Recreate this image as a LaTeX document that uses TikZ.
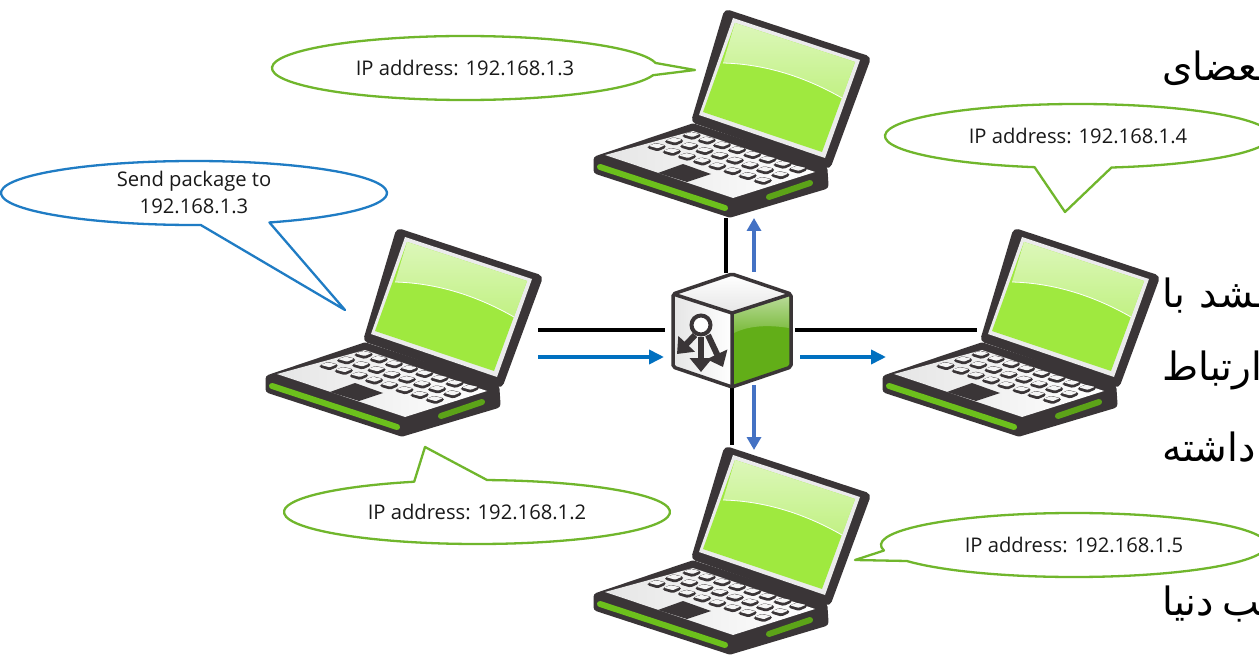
\documentclass[tikz,border=0pt]{standalone}
\usepackage{fontspec}
\setmainfont{Open Sans}
\newfontfamily\arabicfont[Script=Arabic]{DejaVu Sans}
\TeXXeTstate=1
\usetikzlibrary{arrows.meta,calc}
\definecolor{dk}{HTML}{3A3537}
\definecolor{grn}{HTML}{62AE18}
\definecolor{strip}{HTML}{6CC01C}
\definecolor{scr}{HTML}{9FE93F}
\definecolor{bluea}{HTML}{0070C0}
\definecolor{blueb}{HTML}{4472C4}
\definecolor{callg}{HTML}{70B62C}
\definecolor{callb}{HTML}{1F7CC4}
\tikzset{
  lab/.style={font=\fontsize{20.2}{27}\selectfont,align=center,text=black!90,inner sep=0pt},
  fa/.style={font=\fontsize{39}{44}\selectfont\arabicfont,anchor=west,inner sep=0pt,text=black},
  wire/.style={line width=4pt,black},
  flowa/.style={line width=3.6pt,bluea,-{Triangle[width=14pt,length=15pt]}},
  flowb/.style={line width=3.6pt,blueb,-{Triangle[width=14pt,length=13pt]}},
  balloon/.style={line width=2.3pt,fill=white,line join=round},
}
% center x, y, start angle, delta, tip x, tip y, colour
\newcommand{\balloonshape}[7]{%
  \draw[balloon,draw=#7] ($(#1,#2)+(#3:193 and 32)$) arc[start angle=#3,delta angle=#4,x radius=193,y radius=32] -- (#5,#6) -- cycle;}
\newcommand{\laptop}[2]{%
\begin{scope}[shift={(#1,#2)}]
  % base
  \fill[dk,line join=round,draw=dk,line width=9pt] (693,128) -- (598,160) -- (598,170) -- (730,213) -- (824,185) -- (823,170) -- cycle;
  % lid
  \fill[dk,draw=dk,line width=10pt,line join=round] (728,15) -- (865,60) -- (827,163) -- (697,119) -- cycle;
  % bezel and screen
  \fill[black!8] (733,18) -- (860,60) -- (825,158) -- (699,115) -- cycle;
  \fill[scr] (735,23) -- (855,62) -- (822,152) -- (703,112) -- cycle;
  \begin{scope}
    \clip (735,23) -- (855,62) -- (842,98) .. controls (800,74) and (760,64) .. (723,63) -- cycle;
    \shade[top color=white!65!scr,bottom color=white!35!scr] (720,20) rectangle (860,100);
  \end{scope}
  \draw[white,line width=.8pt] (842,98) .. controls (800,74) and (760,64) .. (723,63);
  % deck
  \shade[left color=black!10,right color=white,line join=round] (693,131) -- (605,155) -- (733,198) -- (815,172) -- cycle;
  % green strips
  \draw[strip,line width=6pt,line cap=round] (600,167) -- (725,208);
  \draw[strip!85!black,line width=6pt,line cap=round] (769,197) -- (810,183);
  % touchpad
  \fill[dk] (658,173) -- (683,164) -- (711,174) -- (687,182) -- cycle;
  % keys
  \foreach \i in {0,1,2}{\foreach \j in {0,...,7}{
    \pgfmathsetmacro{\kx}{580+(335-52.5*\i+45.5*\j)/3}
    \pgfmathsetmacro{\ky}{(405+17*\i+14.5*\j)/3}
    \fill[dk,rounded corners=1.5pt] (\kx-9,\ky) -- (\kx-1,\ky-3.5) -- (\kx+9,\ky-1) -- (\kx+9,\ky+1.5) -- (\kx+1,\ky+5) -- (\kx-9,\ky+2) -- cycle;
    \fill[white!96!black,rounded corners=1pt] (\kx-8,\ky-.5) -- (\kx-1,\ky-3) -- (\kx+8,\ky-1) -- (\kx+1,\ky+2) -- cycle;
  }}
\end{scope}}
\begin{document}
\begin{tikzpicture}[x=1pt,y=-1pt]
\useasboundingbox (0,0) rectangle (1259,655);
\clip (0,0) rectangle (1259,655);
\fill[white] (0,0) rectangle (1259,655);
% background text, cut by the right edge
\node[fa] (t1) at (1162,68) {\beginR ـعضای\endR};
\node[fa] (t2) at (1162,296) {\beginR ـشد\hspace{15pt}با\endR};
\node[fa] (t3) at (1162,370) {\beginR ارتباط\endR};
\node[fa] (t4) at (1162,447) {\beginR داشته\endR};
\node[fa] (t5) at (1162,604) {\beginR ـب\hspace{8pt}دنیا\endR};
% laptops
\laptop{0}{0}
\laptop{-328}{219}
\laptop{289}{219}
\laptop{0}{437}
% connector ends
\coordinate (la) at (538,330); \coordinate (ha) at (665,330);
\coordinate (lb) at (538,357); \coordinate (hb) at (664,357);
\coordinate (rc) at (795,330); \coordinate (ra) at (977,330);
\coordinate (rd) at (800,357); \coordinate (rb) at (886,357);
\coordinate (tc) at (726,273); \coordinate (ta) at (726,218);
\coordinate (td) at (754,272); \coordinate (tb) at (754,218);
\coordinate (bc) at (732,388); \coordinate (ba) at (732,445);
\coordinate (bd) at (754,385); \coordinate (bb) at (754,450);
\draw[wire] (la) -- (ha);
\draw[flowa] (lb) -- (hb);
\draw[wire] (rc) -- (ra);
\draw[flowa] (rd) -- (rb);
\draw[wire] (tc) -- (ta);
\draw[flowb] (td) -- (tb);
\draw[wire] (bc) -- (ba);
\draw[flowb] (bd) -- (bb);
% hub
\shade[top color=white,bottom color=black!10] (732,275) -- (790,294) -- (732,313) -- (674,294) -- cycle;
\shade[left color=black!10,right color=white] (674,294) -- (732,313) -- (732,386) -- (674,367) -- cycle;
\fill[grn] (732,313) -- (790,294) -- (790,367) -- (732,386) -- cycle;
\shade[top color=grn!45!white,bottom color=grn!85!white] (734,313) -- (789,296) -- (789,328) .. controls (770,325) and (750,325) .. (734,333) -- cycle;
\draw[dk,line width=3.5pt,line join=round,rounded corners=2pt] (732,274) -- (791,294) -- (791,367) -- (732,387) -- (673,367) -- (673,294) -- cycle;
\draw[dk,line width=3.5pt,line join=round] (673,294) -- (732,313) -- (791,294) (732,313) -- (732,387);
\draw[dk,line width=6pt,-{Triangle[width=22pt,length=14pt]}] (695,335) -- (677,354);
\draw[dk,line width=6pt,-{Triangle[width=22pt,length=14pt]}] (701,337) -- (701,372);
\draw[dk,line width=6pt,-{Triangle[width=22pt,length=14pt]}] (708,335) -- (723,367);
\draw[dk,line width=4pt,fill=white] (701,325) circle (9.5);
% callouts
\balloonshape{465}{68}{13}{338}{695}{70}{callg}
\node[lab] (a3) at (465,68) {IP address: 192.168.1.3};
\balloonshape{194}{193}{88}{339}{345}{310}{callb}
\node[lab] (send) at (194,192) {Send package to\\192.168.1.3};
\balloonshape{1078}{136}{103}{337}{1065}{212}{callg}
\node[lab] (a4) at (1078,136) {IP address: 192.168.1.4};
\balloonshape{477}{512}{273}{338}{425}{447}{callg}
\node[lab] (a2) at (477,512) {IP address: 192.168.1.2};
\balloonshape{1074}{545}{170}{340}{855}{560}{callg}
\node[lab] (a5) at (1074,545) {IP address: 192.168.1.5};
\end{tikzpicture}
\end{document}
